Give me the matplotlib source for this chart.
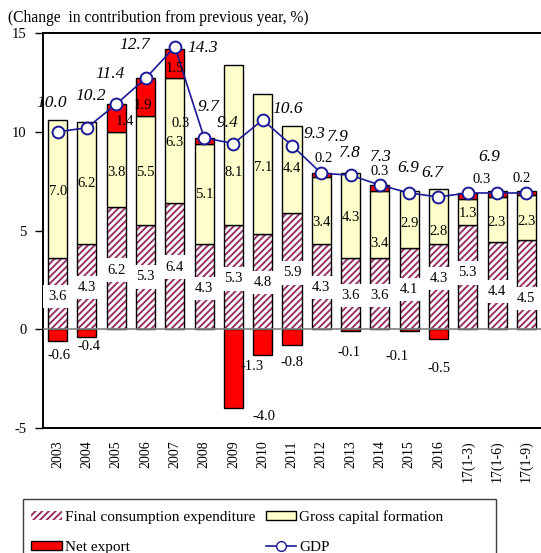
import matplotlib
matplotlib.use("Agg")
import matplotlib.pyplot as plt
import numpy as np
from matplotlib.patches import Patch, Rectangle
from matplotlib.lines import Line2D

plt.rcParams['font.family'] = ['Liberation Serif', 'DejaVu Serif']
plt.rcParams['hatch.linewidth'] = 1.4

# ---- data -------------------------------------------------------------
periods = ["2003", "2004", "2005", "2006", "2007", "2008", "2009", "2010",
           "2011", "2012", "2013", "2014", "2015", "2016",
           "17(1-3)", "17(1-6)", "17(1-9)"]
final_consumption = [3.6, 4.3, 6.2, 5.3, 6.4, 4.3, 5.3, 4.8, 5.9, 4.3,
                     3.6, 3.6, 4.1, 4.3, 5.3, 4.4, 4.5]
gross_capital = [7.0, 6.2, 3.8, 5.5, 6.3, 5.1, 8.1, 7.1, 4.4, 3.4,
                 4.3, 3.4, 2.9, 2.8, 1.3, 2.3, 2.3]
net_export = [-0.6, -0.4, 1.4, 1.9, 1.5, 0.3, -4.0, -1.3, -0.8, 0.2,
              -0.1, 0.3, -0.1, -0.5, 0.3, 0.3, 0.2]
gdp = [10.0, 10.2, 11.4, 12.7, 14.3, 9.7, 9.4, 10.6, 9.3, 7.9,
       7.8, 7.3, 6.9, 6.7, 6.9, 6.9, 6.9]

# which values carry a printed label
gdp_shown = [True] * 14 + [False, True, False]
net_shown = [True] * 14 + [False, True, True]

# label nudges in pixels (dx, dy)
gdp_off = [(-6, 29), (4, 32), (-6, 30), (-11, 33), (28, -1), (4, 31), (-6, 21),
           (25, 11), (22, 12), (17, 36), (-1, 22), (1, 28), (-1, 25), (-6, 24),
           (0, 0), (-8, 36), (0, 0)]
net_off = [(1, -14), (2, -9), (9, -4), (-3, -8), (0, -5), (-23, 17), (31, -8),
           (-11, -12), (0, -17), (2, 17), (-2, -21), (0, 17), (-12, -25),
           (1, -29), (0, 0), (-15, 14), (-5, 14)]
gcf_dy = [-2, 0, -3, -2, -2, -1, -28, -3, 1, -12, -2, -19, -4, -15, -2, -3, -4]
fc_dy = [-3, -1, -2, 0, -1, -2, -2, -1, -2, -1, -2, -2, -1, 8, 4, -6, -14]

# ---- figure -----------------------------------------------------------
W, H = 541, 553
fig = plt.figure(figsize=(W / 100, H / 100), dpi=100)
ax = fig.add_axes([43 / W, 1 - 428 / H, 498 / W, 395 / H])

x = np.arange(len(periods))
w = 0.65
purple = "#993366"
yellow = "#FFFFCC"
red = "#FF0000"
navy = "#1A1A99"

fc = np.array(final_consumption)
gc = np.array(gross_capital)
ne = np.array(net_export)
ne_bottom = np.where(ne >= 0, fc + gc, 0.0)

# hatched consumption bars: hatch drawn in purple, outline in black
ax.bar(x, fc, w, color="white", edgecolor=purple, hatch="/////", linewidth=0, zorder=2)
ax.bar(x, fc, w, fill=False, edgecolor="black", linewidth=1.0, zorder=3)
ax.bar(x, gc, w, bottom=fc, color=yellow, edgecolor="black", linewidth=1.0, zorder=3)
ax.bar(x, ne, w, bottom=ne_bottom, color=red, edgecolor="black", linewidth=1.0, zorder=3)

ax.axhline(0, color="#808080", linewidth=1.2, zorder=4)

ax.plot(x, gdp, color=navy, linewidth=1.2, marker="o", markersize=8.5,
        markerfacecolor="white", markeredgecolor=navy, markeredgewidth=1.4, zorder=6)

# value labels
for i in x:
    ax.annotate(f"{fc[i]:.1f}", (i, fc[i] / 2), xytext=(0, fc_dy[i]),
                textcoords="offset pixels", ha="center", va="center", fontsize=10.5,
                bbox=dict(boxstyle="square,pad=0.35", facecolor="white", edgecolor="none"),
                zorder=7)
    ax.annotate(f"{gc[i]:.1f}", (i, fc[i] + gc[i] / 2), xytext=(0, gcf_dy[i]),
                textcoords="offset pixels", ha="center", va="center", fontsize=10.5, zorder=7)
    if net_shown[i]:
        anchor = fc[i] + gc[i] + ne[i] / 2 if ne[i] >= 0 else ne[i]
        ax.annotate(f"{ne[i]:.1f}", (i, anchor), xytext=net_off[i],
                    textcoords="offset pixels", ha="center", va="center",
                    fontsize=10.5, zorder=7)
    if gdp_shown[i]:
        ax.annotate(f"{gdp[i]:.1f}", (i, gdp[i]), xytext=gdp_off[i],
                    textcoords="offset pixels", ha="center", va="center",
                    fontsize=12.5, style="italic", zorder=7)

ax.set_xlim(-0.5, len(periods) - 0.5)
ax.set_ylim(-5, 15)
ax.set_yticks([-5, 0, 5, 10, 15])
ax.set_yticklabels(["-5", "0", "5", "10", "15"], fontsize=10.5)
ax.set_xticks(x)
ax.set_xticklabels(periods, rotation=90, fontsize=10)
ax.tick_params(axis="x", length=0, pad=9)
ax.tick_params(axis="y", direction="out", length=6, width=1.0, pad=6)

ax.spines["right"].set_visible(False)
for s in ("left", "top", "bottom"):
    ax.spines[s].set_linewidth(1.4)
    ax.spines[s].set_color("black")

fig.text(8 / W, 1 - 18 / H, "(Change  in contribution from previous year, %)",
         fontsize=11.2, ha="left", va="center")

# legend with a hand-drawn frame that runs off the bottom edge
fig.add_artist(Rectangle((23 / W, -0.05), (496 - 23) / W, 0.05 + 1 - 499 / H,
                         transform=fig.transFigure, fill=False,
                         edgecolor="#404040", linewidth=1.0))
handles = [
    Patch(facecolor="white", edgecolor=purple, hatch="/////", linewidth=0),
    Patch(facecolor=red, edgecolor="black", linewidth=1.0),
    Patch(facecolor=yellow, edgecolor="black", linewidth=1.0),
    Line2D([], [], color=navy, marker="o", markerfacecolor="white",
           markeredgecolor=navy, markersize=7, linewidth=1.2),
]
labels = ["Final consumption expenditure", "Net export",
          "Gross capital formation", "GDP"]
leg = fig.legend(handles, labels, ncol=2, loc="upper left",
                 bbox_to_anchor=(31 / W, 1 - 510 / H), fontsize=11,
                 frameon=False, borderaxespad=0, borderpad=0,
                 handlelength=2.0, handleheight=0.6, handletextpad=0.2,
                 columnspacing=0.7, labelspacing=1.1)

fig.savefig("out.png", dpi=100)
